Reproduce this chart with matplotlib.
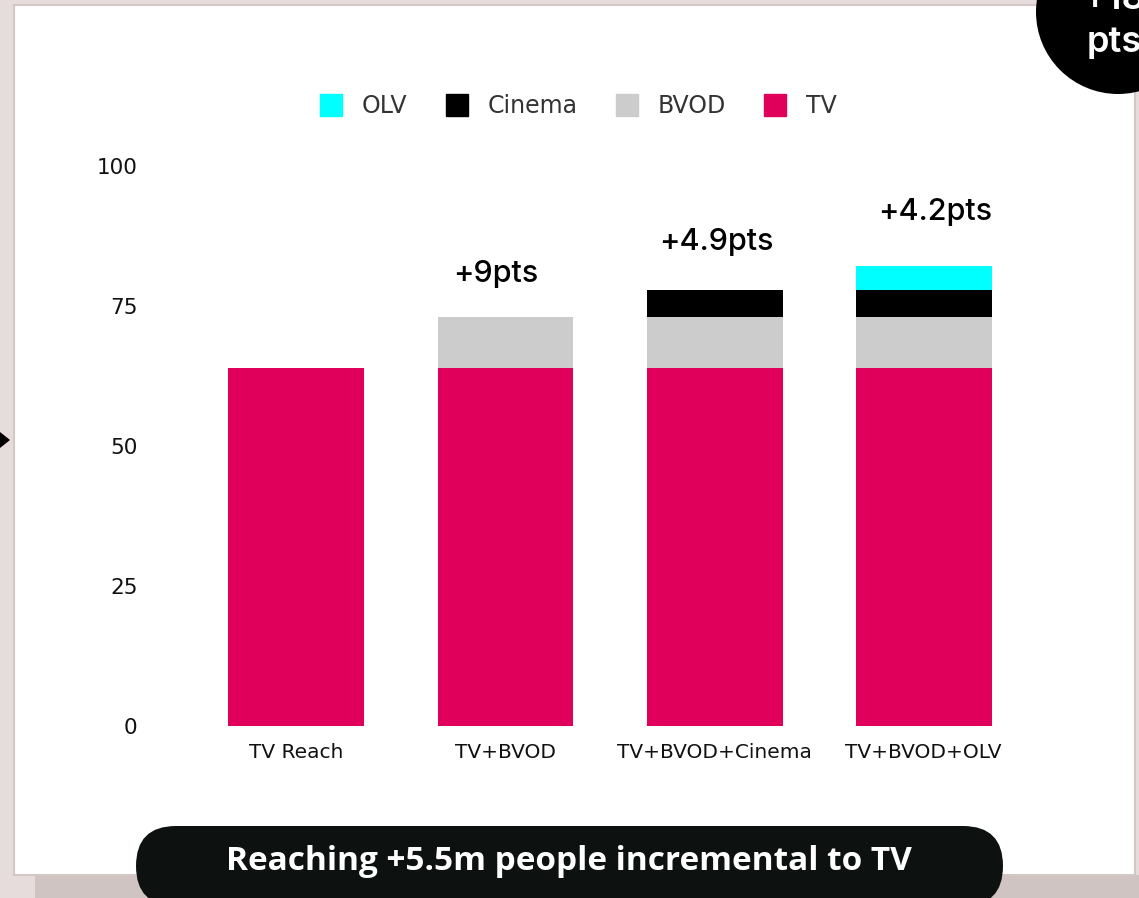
import matplotlib.pyplot as plt
import numpy as np
from matplotlib.patches import Rectangle, FancyBboxPatch, Circle, Polygon
from matplotlib.lines import Line2D
from matplotlib.transforms import IdentityTransform

# reach build-up per plan (percentage points)
plans = ["TV Reach", "TV+BVOD", "TV+BVOD+Cinema", "TV+BVOD+OLV"]
tv = [64, 64, 64, 64]
bvod = [0, 9, 9, 9]
cinema = [0, 0, 4.9, 4.9]
olv = [0, 0, 0, 4.2]
increments = [None, 9, 4.9, 4.2]
y_ticks = [0, 25, 50, 75, 100]

colors = {"TV": "#e0005c", "BVOD": "#cccccc", "Cinema": "#000000", "OLV": "#00ffff"}

W, H = 1139, 898
fig = plt.figure(figsize=(W / 100, H / 100), dpi=100)
fig.patch.set_facecolor("#e5dcdb")
px = IdentityTransform()


def fy(y):
    # image rows count from the top, display coords from the bottom
    return H - y


# card, shadow and side arrow (kept below the axes)
fig.patches.append(Rectangle((35, 0), W - 35, fy(875), transform=px,
                             facecolor="#cfc4c2", edgecolor="none", zorder=-3))
fig.patches.append(Rectangle((14, fy(875)), 1121, 870, transform=px,
                             facecolor="white", edgecolor="#d3c7c5", lw=1.5, zorder=-2))
fig.patches.append(Polygon([(0, fy(432)), (10, fy(440)), (0, fy(448))], closed=True,
                           transform=px, facecolor="black", edgecolor="none", zorder=-1))

ax = fig.add_axes([150 / W, 172 / H, 920 / W, 560 / H])
ax.set_facecolor("none")
ax.set_zorder(1)
x = np.arange(len(plans))
bw = 0.65
bottom = np.zeros(len(plans))
for name, vals in [("TV", tv), ("BVOD", bvod), ("Cinema", cinema), ("OLV", olv)]:
    ax.bar(x, vals, bw, bottom=bottom, color=colors[name], linewidth=0)
    bottom = bottom + np.array(vals)

# increment labels above each stacked bar
label_offsets = [(0, 0), (-10, 43), (2, 48), (12, 54)]
for i, inc in enumerate(increments):
    if inc is None:
        continue
    dx, dy = label_offsets[i]
    ax.annotate(f"+{inc:g}pts", (x[i], bottom[i]), xytext=(dx, dy),
                textcoords="offset pixels", ha="center", va="center",
                fontsize=22, fontfamily="Inter", fontweight="medium",
                color="black", annotation_clip=False)

ax.set_xlim(-0.7, 3.7)
ax.set_ylim(0, 100)
ax.set_yticks(y_ticks)
ax.set_yticklabels([str(t) for t in y_ticks], fontsize=15.5, color="#111111")
ax.set_xticks(x)
ax.set_xticklabels(plans, fontsize=14.5, color="#111111")
ax.tick_params(axis="y", length=0, pad=9)
ax.tick_params(axis="x", length=0, pad=12)
for s in ax.spines.values():
    s.set_visible(False)

# legend lists the top segment first
handles = [Line2D([], [], linestyle="none", marker="s", markersize=16.5,
                  markerfacecolor=colors[n], markeredgecolor=colors[n])
           for n in ["OLV", "Cinema", "BVOD", "TV"]]
leg = fig.legend(handles, ["OLV", "Cinema", "BVOD", "TV"], loc="center",
                 bbox_to_anchor=(578 / W, 1 - 106 / H), ncol=4, frameon=False,
                 fontsize=17, handlelength=1.0, handletextpad=0.8, columnspacing=1.6)
leg.set_zorder(2)
for t in leg.get_texts():
    t.set_color("#333333")

# corner badge, running off the top-right edge
fig.patches.append(Circle((1118, fy(12)), 82, transform=px, facecolor="black",
                          edgecolor="none", zorder=3))
fig.text(1114, fy(9), "+18", transform=px, ha="center", va="baseline",
         fontsize=26, fontfamily="Inter", fontweight="semibold", color="white", zorder=4)
fig.text(1114, fy(52), "pts", transform=px, ha="center", va="baseline",
         fontsize=26, fontfamily="Inter", fontweight="semibold", color="white", zorder=4)

# footer pill
fig.patches.append(FancyBboxPatch((136, fy(906)), 867, 80, transform=px,
                                  boxstyle="round,pad=0,rounding_size=40",
                                  facecolor="#0d1110", edgecolor="none", zorder=3))
fig.text(569, fy(862), "Reaching +5.5m people incremental to TV", transform=px,
         ha="center", va="center", fontsize=24, fontfamily="Open Sans",
         fontweight="bold", color="white", zorder=4)

fig.savefig("out.png", dpi=100, facecolor=fig.get_facecolor())
